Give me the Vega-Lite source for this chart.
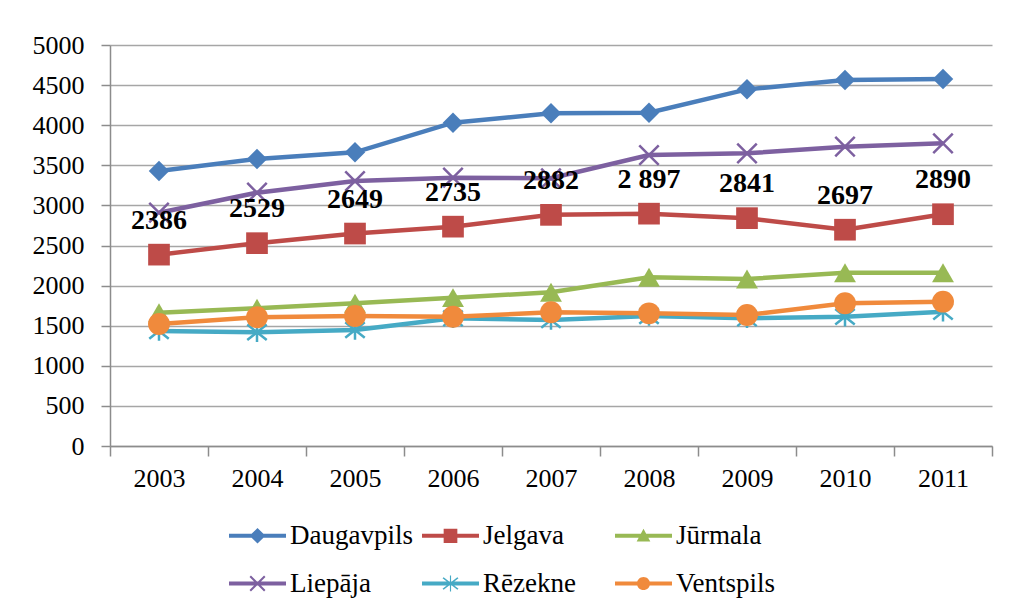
{
  "$schema": "https://vega.github.io/schema/vega-lite/v6.json",
  "width": 882,
  "height": 401,
  "autosize": {"type": "none"},
  "padding": {"left": 110, "top": 45, "right": 18, "bottom": 166},
  "background": "white",
  "config": {
    "font": "Liberation Serif",
    "view": {"stroke": null},
    "axis": {"labelFont": "Liberation Serif"},
    "legend": {"labelFont": "Liberation Serif"}
  },
  "data": {
    "values": [
      {"year": "2003", "city": "Daugavpils", "value": 3429},
      {"year": "2004", "city": "Daugavpils", "value": 3579},
      {"year": "2005", "city": "Daugavpils", "value": 3662},
      {"year": "2006", "city": "Daugavpils", "value": 4031},
      {"year": "2007", "city": "Daugavpils", "value": 4148},
      {"year": "2008", "city": "Daugavpils", "value": 4156},
      {"year": "2009", "city": "Daugavpils", "value": 4447},
      {"year": "2010", "city": "Daugavpils", "value": 4564},
      {"year": "2011", "city": "Daugavpils", "value": 4576},
      {"year": "2003", "city": "Jelgava", "value": 2386, "label": "2386"},
      {"year": "2004", "city": "Jelgava", "value": 2529, "label": "2529"},
      {"year": "2005", "city": "Jelgava", "value": 2649, "label": "2649"},
      {"year": "2006", "city": "Jelgava", "value": 2735, "label": "2735"},
      {"year": "2007", "city": "Jelgava", "value": 2882, "label": "2882"},
      {"year": "2008", "city": "Jelgava", "value": 2897, "label": "2 897"},
      {"year": "2009", "city": "Jelgava", "value": 2841, "label": "2841"},
      {"year": "2010", "city": "Jelgava", "value": 2697, "label": "2697"},
      {"year": "2011", "city": "Jelgava", "value": 2890, "label": "2890"},
      {"year": "2003", "city": "Jūrmala", "value": 1662},
      {"year": "2004", "city": "Jūrmala", "value": 1717},
      {"year": "2005", "city": "Jūrmala", "value": 1779},
      {"year": "2006", "city": "Jūrmala", "value": 1850},
      {"year": "2007", "city": "Jūrmala", "value": 1916},
      {"year": "2008", "city": "Jūrmala", "value": 2103},
      {"year": "2009", "city": "Jūrmala", "value": 2082},
      {"year": "2010", "city": "Jūrmala", "value": 2161},
      {"year": "2011", "city": "Jūrmala", "value": 2161},
      {"year": "2003", "city": "Liepāja", "value": 2909},
      {"year": "2004", "city": "Liepāja", "value": 3159},
      {"year": "2005", "city": "Liepāja", "value": 3304},
      {"year": "2006", "city": "Liepāja", "value": 3345},
      {"year": "2007", "city": "Liepāja", "value": 3338},
      {"year": "2008", "city": "Liepāja", "value": 3628},
      {"year": "2009", "city": "Liepāja", "value": 3649},
      {"year": "2010", "city": "Liepāja", "value": 3732},
      {"year": "2011", "city": "Liepāja", "value": 3774},
      {"year": "2003", "city": "Rēzekne", "value": 1434},
      {"year": "2004", "city": "Rēzekne", "value": 1418},
      {"year": "2005", "city": "Rēzekne", "value": 1446},
      {"year": "2006", "city": "Rēzekne", "value": 1592},
      {"year": "2007", "city": "Rēzekne", "value": 1571},
      {"year": "2008", "city": "Rēzekne", "value": 1621},
      {"year": "2009", "city": "Rēzekne", "value": 1592},
      {"year": "2010", "city": "Rēzekne", "value": 1612},
      {"year": "2011", "city": "Rēzekne", "value": 1675},
      {"year": "2003", "city": "Ventspils", "value": 1521},
      {"year": "2004", "city": "Ventspils", "value": 1605},
      {"year": "2005", "city": "Ventspils", "value": 1621},
      {"year": "2006", "city": "Ventspils", "value": 1612},
      {"year": "2007", "city": "Ventspils", "value": 1667},
      {"year": "2008", "city": "Ventspils", "value": 1654},
      {"year": "2009", "city": "Ventspils", "value": 1633},
      {"year": "2010", "city": "Ventspils", "value": 1779},
      {"year": "2011", "city": "Ventspils", "value": 1800}
    ]
  },
  "encoding": {
    "x": {
      "field": "year",
      "type": "ordinal",
      "bandPosition": 0.5,
      "scale": {"type": "band", "paddingInner": 0, "paddingOuter": 0},
      "axis": {
        "title": null,
        "labelAngle": 0,
        "tickBand": "extent",
        "tickSize": 10,
        "tickWidth": 1.5,
        "tickColor": "#8c8c8c",
        "domainColor": "#8c8c8c",
        "domainWidth": 1.5,
        "labelFont": "Liberation Serif",
        "labelFontSize": 26,
        "labelColor": "black",
        "labelPadding": 9,
        "grid": false
      }
    },
    "y": {
      "field": "value",
      "type": "quantitative",
      "scale": {"domain": [0, 5000], "nice": false},
      "axis": {
        "title": null,
        "format": "d",
        "values": [0, 500, 1000, 1500, 2000, 2500, 3000, 3500, 4000, 4500, 5000],
        "grid": true,
        "gridColor": "#a6a6a6",
        "gridWidth": 1.5,
        "domainColor": "#8c8c8c",
        "domainWidth": 1.5,
        "tickColor": "#8c8c8c",
        "tickSize": 9,
        "tickWidth": 1.5,
        "labelFont": "Liberation Serif",
        "labelFontSize": 26,
        "labelColor": "black",
        "labelPadding": 17
      }
    }
  },
  "layer": [
    {
      "mark": {"type": "point", "filled": true, "opacity": 0},
      "encoding": {
        "color": {
          "field": "city", "type": "nominal",
          "scale": {"domain": ["Daugavpils", "Jelgava", "Jūrmala", "Liepāja", "Rēzekne", "Ventspils"],
                    "range": ["#4a7ebb", "#be4b48", "#98b954", "#7d60a0", "#46aac5", "#f08a3c"]},
          "legend": {
            "title": null, "orient": "none", "legendX": 119, "legendY": 462,
            "direction": "horizontal", "columns": 3, "gridAlign": "all",
            "symbolSize": 3249, "symbolStrokeWidth": 0, "symbolOpacity": 1,
            "labelFont": "Liberation Serif", "labelFontSize": 27, "labelColor": "black",
            "labelOffset": 4, "columnPadding": 9, "rowPadding": 6, "labelLimit": 300
          }
        },
        "shape": {
          "field": "city", "type": "nominal",
          "scale": {"domain": ["Daugavpils", "Jelgava", "Jūrmala", "Liepāja", "Rēzekne", "Ventspils"],
                    "range": [
                      "M-1,-0.07L1,-0.07L1,0.07L-1,0.07ZM0,-0.27L0.28,0L0,0.27L-0.28,0Z",
                      "M-1,-0.07L1,-0.07L1,0.07L-1,0.07ZM-0.24,-0.25L0.24,-0.25L0.24,0.25L-0.24,0.25Z",
                      "M-1,-0.07L1,-0.07L1,0.07L-1,0.07ZM0,-0.25L0.24,0.2L-0.24,0.2Z",
                      "M-1,-0.07L1,-0.07L1,0.07L-1,0.07ZM-0.28,-0.23L-0.23,-0.28L0.28,0.23L0.23,0.28ZM-0.28,0.23L0.23,-0.28L0.28,-0.23L-0.23,0.28Z",
                      "M-1,-0.07L1,-0.07L1,0.07L-1,0.07ZM-0.28,-0.18L-0.24,-0.22L0.28,0.18L0.24,0.22ZM-0.28,0.18L0.24,-0.22L0.28,-0.18L-0.24,0.22ZM-0.02,-0.28L0.02,-0.28L0.02,0.28L-0.02,0.28Z",
                      "M-1,-0.07L1,-0.07L1,0.07L-1,0.07ZM-0.23,0a0.23,0.23 0 1,1 0.46,0a0.23,0.23 0 1,1 -0.46,0Z"
                    ]},
          "legend": {
            "title": null, "orient": "none", "legendX": 119, "legendY": 462,
            "direction": "horizontal", "columns": 3, "gridAlign": "all",
            "symbolSize": 3249, "symbolStrokeWidth": 0, "symbolOpacity": 1,
            "labelFont": "Liberation Serif", "labelFontSize": 27, "labelColor": "black",
            "labelOffset": 4, "columnPadding": 9, "rowPadding": 6, "labelLimit": 300
          }
        }
      }
    },
    {
      "mark": {"type": "line", "strokeWidth": 4.5},
      "encoding": {
        "color": {
          "field": "city", "type": "nominal",
          "scale": {"domain": ["Daugavpils", "Jelgava", "Jūrmala", "Liepāja", "Rēzekne", "Ventspils"],
                    "range": ["#4a7ebb", "#be4b48", "#98b954", "#7d60a0", "#46aac5", "#f08a3c"]},
          "legend": null
        }
      }
    },
    {
      "transform": [{"filter": "datum.city === 'Daugavpils'"}],
      "mark": {"type": "point", "shape": "diamond", "filled": true, "size": 420, "opacity": 1, "color": "#4a7ebb"},
      "encoding": {}
    },
    {
      "transform": [{"filter": "datum.city === 'Jelgava'"}],
      "mark": {"type": "point", "shape": "square", "filled": true, "size": 470, "opacity": 1, "color": "#be4b48"},
      "encoding": {}
    },
    {
      "transform": [{"filter": "datum.city === 'Jūrmala'"}],
      "mark": {"type": "point", "shape": "triangle-up", "filled": true, "size": 480, "opacity": 1, "color": "#98b954"},
      "encoding": {}
    },
    {
      "transform": [{"filter": "datum.city === 'Liepāja'"}],
      "mark": {"type": "point", "shape": "M-1,-1L1,1M-1,1L1,-1", "filled": false, "size": 380, "opacity": 1, "strokeWidth": 2.5, "color": "#7d60a0"},
      "encoding": {}
    },
    {
      "transform": [{"filter": "datum.city === 'Rēzekne'"}],
      "mark": {"type": "point", "shape": "M-1,-0.8L1,0.8M-1,0.8L1,-0.8M0,-1L0,1", "filled": false, "size": 380, "opacity": 1, "strokeWidth": 2.5, "color": "#46aac5"},
      "encoding": {}
    },
    {
      "transform": [{"filter": "datum.city === 'Ventspils'"}],
      "mark": {"type": "point", "shape": "circle", "filled": true, "size": 480, "opacity": 1, "color": "#f08a3c"},
      "encoding": {}
    },
    {
      "transform": [{"filter": "datum.city === 'Jelgava'"}],
      "mark": {"type": "text", "font": "Liberation Serif", "fontWeight": "bold", "fontSize": 28, "dy": -34, "color": "black"},
      "encoding": {"text": {"field": "label"}}
    }
  ]
}
